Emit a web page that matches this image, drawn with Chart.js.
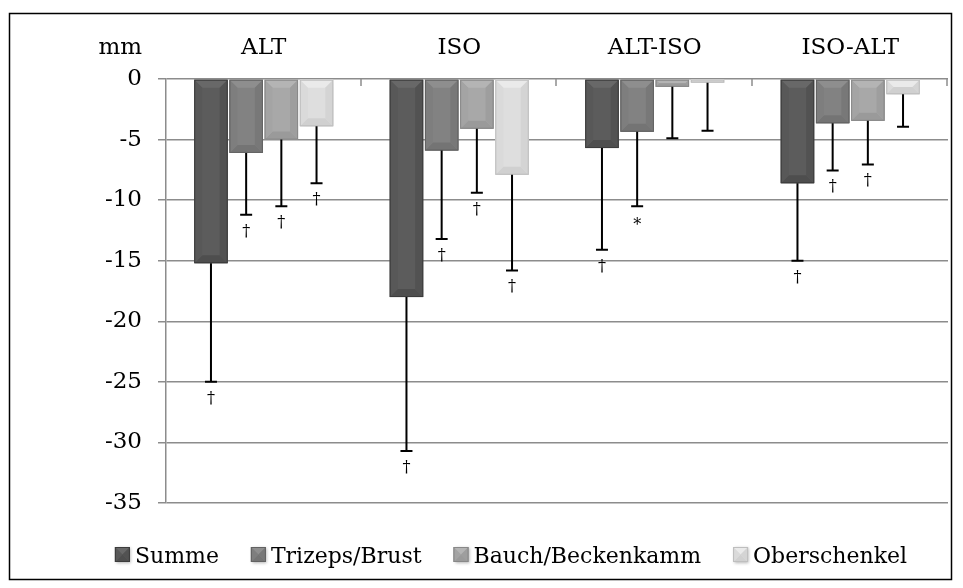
<!DOCTYPE html>
<html>
<head>
<meta charset="utf-8">
<script src="https://cdn.jsdelivr.net/npm/chart.js@4.4.1/dist/chart.umd.min.js"></script>
<style>
  html, body { margin: 0; padding: 0; background: #fff; }
  #wrap { width: 963px; height: 588px; }
</style>
</head>
<body>
<div id="wrap"><canvas id="c" width="963" height="588"></canvas></div>
<script>
// Categories and series
const categories = ['ALT', 'ISO', 'ALT-ISO', 'ISO-ALT'];
const seriesNames = ['Summe', 'Trizeps/Brust', 'Bauch/Beckenkamm', 'Oberschenkel'];

// Mean change in skinfold thickness (mm)
const summe        = [-15.2, -18.0, -5.7, -8.6];
const trizeps      = [-6.1, -5.9, -4.35, -3.65];
const bauch        = [-5.0, -4.1, -0.65, -3.45];
const oberschenkel = [-3.9, -7.9, -0.3, -1.25];

// Standard deviations (drawn downward from each bar)
const summeSD        = [9.8, 12.7, 8.4, 6.4];
const trizepsSD      = [5.1, 7.3, 6.15, 3.9];
const bauchSD        = [5.5, 5.3, 4.25, 3.6];
const oberschenkelSD = [4.7, 7.9, 3.97, 2.7];

// Significance markers
const summeSig        = ['†', '†', '†', '†'];
const trizepsSig      = ['†', '†', '*', '†'];
const bauchSig        = ['†', '†', '', '†'];
const oberschenkelSig = ['†', '†', '', ''];

// Y axis ticks
const yMin = -35, yMax = 0, yStep = 5;

const seriesValues = [summe, trizeps, bauch, oberschenkel];
const seriesSD = [summeSD, trizepsSD, bauchSD, oberschenkelSD];
const seriesSig = [summeSig, trizepsSig, bauchSig, oberschenkelSig];

const FONT = '"DejaVu Serif", serif';
const shades = [[92, 92, 92], [130, 130, 130], [168, 168, 168], [222, 222, 222]];
const rgb = (c, d = 0) => `rgb(${c.map(v => Math.max(0, Math.min(255, v + d))).join(',')})`;

// Beveled box face
function bevel(ctx, l, t, r, b, c) {
  const w = r - l, h = b - t;
  if (w <= 0 || h <= 0) return;
  const e = Math.max(0, Math.min(8, w / 2, h / 2));
  ctx.fillStyle = rgb(c, 0);
  ctx.fillRect(l, t, w, h);
  const poly = (pts, col) => {
    ctx.beginPath();
    ctx.moveTo(pts[0][0], pts[0][1]);
    for (let i = 1; i < pts.length; i++) ctx.lineTo(pts[i][0], pts[i][1]);
    ctx.closePath();
    ctx.fillStyle = col;
    ctx.fill();
  };
  poly([[l, t], [r, t], [r - e, t + e], [l + e, t + e]], rgb(c, 12));
  poly([[l, b], [r, b], [r - e, b - e], [l + e, b - e]], rgb(c, -14));
  poly([[l, t], [l + e, t + e], [l + e, b - e], [l, b]], rgb(c, -4));
  poly([[r, t], [r - e, t + e], [r - e, b - e], [r, b]], rgb(c, -10));
  ctx.strokeStyle = rgb(c, -32);
  ctx.lineWidth = 1;
  ctx.strokeRect(l + 0.5, t + 0.5, w - 1, h - 1);
}

// White page with a black frame
const framePlugin = {
  id: 'frame',
  beforeDraw(chart) {
    const ctx = chart.ctx;
    ctx.save();
    ctx.fillStyle = '#fff';
    ctx.fillRect(0, 0, chart.width, chart.height);
    ctx.strokeStyle = '#000';
    ctx.lineWidth = 1.5;
    ctx.strokeRect(9.5, 13.5, 942, 566);
    ctx.restore();
  }
};

// Drop shadow under bars, bevel faces, error bars and markers on top
const barDecor = {
  id: 'barDecor',
  beforeDatasetsDraw(chart) {
    const ctx = chart.ctx;
    ctx.save();
    ctx.shadowColor = 'rgba(0,0,0,0.35)';
    ctx.shadowBlur = 6;
    ctx.shadowOffsetX = 2;
    ctx.shadowOffsetY = 2;
  },
  afterDatasetsDraw(chart) {
    const ctx = chart.ctx;
    ctx.restore();
    const yScale = chart.scales.y;
    ctx.save();
    chart.data.datasets.forEach((ds, di) => {
      const meta = chart.getDatasetMeta(di);
      meta.data.forEach((el) => {
        const p = el.getProps(['x', 'y', 'base', 'width'], true);
        const l = p.x - p.width / 2, r = p.x + p.width / 2;
        const t = Math.min(p.y, p.base), b = Math.max(p.y, p.base);
        bevel(ctx, l, t, r, b, shades[di]);
      });
    });
    chart.data.datasets.forEach((ds, di) => {
      const meta = chart.getDatasetMeta(di);
      meta.data.forEach((el, i) => {
        const p = el.getProps(['x', 'y'], true);
        const v = seriesValues[di][i];
        const yEnd = yScale.getPixelForValue(v - seriesSD[di][i]);
        ctx.strokeStyle = '#000';
        ctx.lineWidth = 2;
        ctx.beginPath();
        ctx.moveTo(p.x, p.y);
        ctx.lineTo(p.x, yEnd);
        ctx.moveTo(p.x - 6, yEnd);
        ctx.lineTo(p.x + 6, yEnd);
        ctx.stroke();
        const s = seriesSig[di][i];
        if (s) {
          ctx.fillStyle = '#000';
          ctx.textAlign = 'center';
          ctx.textBaseline = 'alphabetic';
          ctx.font = '16px ' + FONT;
          ctx.fillText(s, p.x, yEnd + (s === '*' ? 24 : 21));
        }
      });
    });
    ctx.restore();
  }
};

// Unit label, category boundary ticks and the legend
const extras = {
  id: 'extras',
  afterDraw(chart) {
    const ctx = chart.ctx;
    const x = chart.scales.x, y = chart.scales.y;
    const y0 = y.getPixelForValue(0);
    ctx.save();
    // unit
    ctx.fillStyle = '#000';
    ctx.font = '23px ' + FONT;
    ctx.textAlign = 'right';
    ctx.textBaseline = 'alphabetic';
    ctx.fillText('mm', y.right - 24, 54);
    // category boundary ticks
    ctx.strokeStyle = '#8c8c8c';
    ctx.lineWidth = 1.5;
    const n = categories.length;
    for (let i = 1; i <= n; i++) {
      const bx = Math.round(x.left + i * x.width / n) - 1;
      ctx.beginPath();
      ctx.moveTo(bx, y0);
      ctx.lineTo(bx, y0 + 7);
      ctx.stroke();
    }
    // legend
    ctx.font = '22px ' + FONT;
    const box = 15, gapText = 5, gapItem = 32;
    const widths = seriesNames.map(s => ctx.measureText(s).width);
    const total = widths.reduce((a, w) => a + box + gapText + w, 0) + gapItem * (n - 1);
    let lx = 511 - total / 2;
    const by = 547;
    seriesNames.forEach((s, i) => {
      ctx.save();
      ctx.shadowColor = 'rgba(0,0,0,0.3)';
      ctx.shadowBlur = 3;
      ctx.shadowOffsetX = 1;
      ctx.shadowOffsetY = 1;
      ctx.fillStyle = rgb(shades[i]);
      ctx.fillRect(lx, by, box, box);
      ctx.restore();
      bevel(ctx, lx, by, lx + box, by + box, shades[i]);
      ctx.fillStyle = '#000';
      ctx.textAlign = 'left';
      ctx.textBaseline = 'alphabetic';
      ctx.fillText(s, lx + box + gapText, by + 16);
      lx += box + gapText + widths[i] + gapItem;
    });
    ctx.restore();
  }
};

Chart.defaults.font.family = FONT;
Chart.defaults.font.size = 23;
Chart.defaults.color = '#000';

new Chart(document.getElementById('c'), {
  type: 'bar',
  data: {
    labels: categories,
    datasets: seriesNames.map((name, i) => ({
      label: name,
      data: seriesValues[i],
      backgroundColor: rgb(shades[i]),
      borderColor: rgb(shades[i], -32),
      borderWidth: 1,
      categoryPercentage: 0.72,
      barPercentage: 0.95
    }))
  },
  options: {
    responsive: false,
    animation: false,
    layout: { padding: { top: 0, left: 0, right: 15, bottom: 85 } },
    plugins: { legend: { display: false }, tooltip: { enabled: false } },
    scales: {
      x: {
        position: 'top',
        grid: { display: false, drawTicks: false, tickLength: 0 },
        border: { display: false },
        ticks: { padding: 17, font: { size: 23 } },
        afterFit(scale) { scale.height = 79; }
      },
      y: {
        min: yMin,
        max: yMax,
        ticks: { stepSize: yStep, padding: 16, font: { size: 23 } },
        grid: { color: '#8c8c8c', lineWidth: 1.5, tickLength: 8, drawTicks: true },
        border: { display: true, color: '#8c8c8c', width: 1.5 },
        afterFit(scale) { scale.width = 166; }
      }
    }
  },
  plugins: [framePlugin, barDecor, extras]
});
</script>
</body>
</html>
